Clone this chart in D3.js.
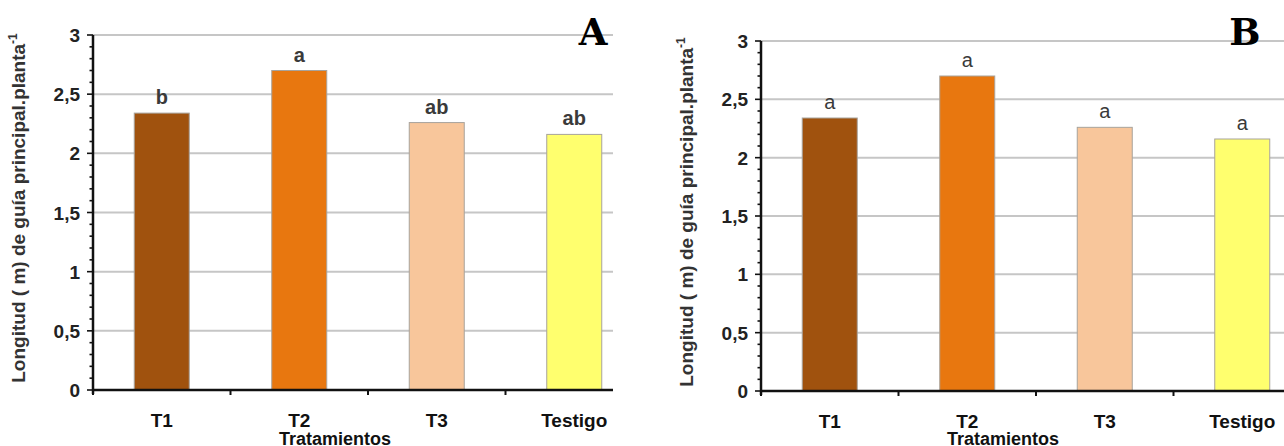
<!DOCTYPE html>
<html><head><meta charset="utf-8">
<script src="https://cdn.jsdelivr.net/npm/d3@7"></script>
<style>html,body{margin:0;padding:0;background:#fff;}svg{display:block;}</style>
</head><body>
<svg id="chart" width="1284" height="446"></svg>
<script>
const categories = ["T1", "T2", "T3", "Testigo"];
const valuesA = [2.34, 2.70, 2.26, 2.16];
const valuesB = [2.34, 2.70, 2.26, 2.16];
const lettersA = ["b", "a", "ab", "ab"];
const lettersB = ["a", "a", "a", "a"];
const barColors = ["#A0520E", "#E8770F", "#F8C69B", "#FFFF6E"];
const yTickValues = [0, 0.5, 1, 1.5, 2, 2.5, 3];
const panelLetters = ["A", "B"];
const xTitle = "Tratamientos";
const yTitle = "Longitud ( m) de guía principal.planta";

const svg = d3.select("#chart");
const font = "'Liberation Sans', Arial, sans-serif";
const fmt = d => String(d).replace(".", ",");

function panel(o) {
  const g = svg.append("g");
  const cid = "clip" + o.id;
  svg.append("defs").append("clipPath").attr("id", cid)
    .append("rect").attr("x", o.clipX0).attr("y", 0).attr("width", o.clipX1 - o.clipX0).attr("height", 446);
  const c = g.append("g").attr("clip-path", `url(#${cid})`);

  const y = d3.scaleLinear().domain([0, 3]).range([o.y0, o.y3]);
  const x = d3.scaleBand().domain(categories).range([o.ax, o.ax + 550]).paddingInner(0.6).paddingOuter(0.3);
  const step = x.step();

  c.selectAll("line.grid").data(yTickValues.filter(v => v > 0)).join("line")
    .attr("x1", o.ax).attr("x2", o.ax + 600).attr("y1", d => y(d)).attr("y2", d => y(d))
    .attr("stroke", "#c6c6c6").attr("stroke-width", 2);

  c.selectAll("rect.bar").data(o.values).join("rect")
    .attr("x", (d, i) => x(categories[i])).attr("width", x.bandwidth())
    .attr("y", d => y(d)).attr("height", d => y(0) - y(d))
    .attr("fill", (d, i) => barColors[i]).attr("stroke", "#a8a39c").attr("stroke-width", 1);

  c.selectAll("text.let").data(o.values).join("text")
    .attr("x", (d, i) => x(categories[i]) + x.bandwidth() / 2).attr("y", d => y(d) - 9)
    .attr("text-anchor", "middle").attr("font-family", font).attr("font-size", 20)
    .attr("font-weight", o.letterWeight).attr("fill", "#3a3a3a")
    .text((d, i) => o.letters[i]);

  c.append("line").attr("x1", o.ax).attr("x2", o.ax + 600).attr("y1", y(0)).attr("y2", y(0))
    .attr("stroke", "#111").attr("stroke-width", 2.5);
  c.selectAll("line.bt").data(d3.range(0, 5)).join("line")
    .attr("x1", d => o.ax + d * step).attr("x2", d => o.ax + d * step)
    .attr("y1", y(0)).attr("y2", y(0) + 5).attr("stroke", "#111").attr("stroke-width", 2);
  c.selectAll("text.cat").data(categories).join("text")
    .attr("x", d => x(d) + x.bandwidth() / 2).attr("y", y(0) + 37)
    .attr("text-anchor", "middle").attr("font-family", font).attr("font-size", 19)
    .attr("font-weight", "bold").attr("fill", "#111").text(d => d);
  c.append("text").attr("x", o.ax + 242).attr("y", 445).attr("text-anchor", "middle")
    .attr("font-family", font).attr("font-size", 18).attr("font-weight", "bold").attr("fill", "#111").text(xTitle);

  g.append("line").attr("x1", o.ax).attr("x2", o.ax).attr("y1", y(3)).attr("y2", y(0) + 4)
    .attr("stroke", "#111").attr("stroke-width", 2.5);
  const minor = d3.range(0, 31).map(d => d / 10);
  g.selectAll("line.mt").data(minor).join("line")
    .attr("x1", o.ax).attr("x2", (d, i) => o.ax - (i % 5 === 0 ? 6 : 3.5))
    .attr("y1", d => y(d)).attr("y2", d => y(d)).attr("stroke", "#111").attr("stroke-width", 1.6);
  g.selectAll("text.yt").data(yTickValues).join("text")
    .attr("x", o.ax - 13).attr("y", d => y(d) + 7).attr("text-anchor", "end")
    .attr("font-family", font).attr("font-size", 19).attr("font-weight", "bold").attr("fill", "#222")
    .text(d => fmt(d));

  const t = g.append("text").attr("transform", `translate(${o.ax - 68},${o.titleCy}) rotate(-90)`)
    .attr("text-anchor", "middle").attr("font-family", font).attr("font-size", 19)
    .attr("font-weight", "bold").attr("fill", "#333");
  t.append("tspan").text(yTitle);
  t.append("tspan").attr("font-size", 12).attr("dy", -8).text("-1");

  g.append("text").attr("x", o.letterX).attr("y", o.letterY).attr("text-anchor", "middle")
    .attr("font-family", "'DejaVu Serif', serif").attr("font-size", 37).attr("font-weight", "bold")
    .attr("fill", "#000").text(o.panel);
}

panel({id: "A", ax: 93, y0: 390, y3: 35, clipX0: 0, clipX1: 613, values: valuesA, letters: lettersA,
  letterWeight: "bold", titleCy: 208, panel: panelLetters[0], letterX: 593, letterY: 45});
panel({id: "B", ax: 761, y0: 391, y3: 41, clipX0: 640, clipX1: 1284, values: valuesB, letters: lettersB,
  letterWeight: "normal", titleCy: 212, panel: panelLetters[1], letterX: 1245, letterY: 45});
</script>
</body></html>
